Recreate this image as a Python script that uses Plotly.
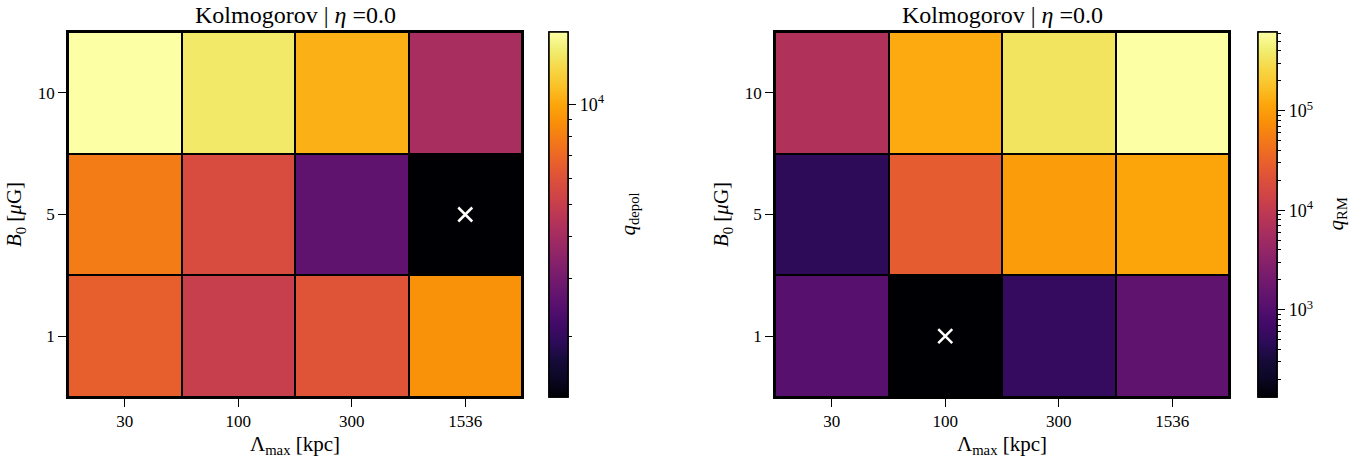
import numpy as np
import plotly.graph_objects as go

# ---------------- data ----------------
lambda_max = ["30", "100", "300", "1536"]          # x categories [kpc]
b0 = ["1", "5", "10"]                               # y categories [muG]

# rows: B0 = 1, 5, 10 ; columns: Lambda_max = 30, 100, 300, 1536
q_depol_b1 = [6640, 5030, 6150, 8990]
q_depol_b5 = [7920, 5710, 2610, 1320]
q_depol_b10 = [16500, 14200, 10500, 4110]

q_rm_b1 = [1100, 133, 559, 1300]
q_rm_b5 = [472, 27200, 96600, 114000]
q_rm_b10 = [7050, 124000, 343000, 620000]

title_text = "Kolmogorov | <i>η</i> =0.0"
xlabel = "Λ<sub>max</sub> [kpc]"
ylabel = "<i>B</i><sub>0</sub> [<i>μ</i>G]"
cb_left_label = "<i>q</i><sub>depol</sub>"
cb_right_label = "<i>q</i><sub>RM</sub>"

# inferno colormap (denser sampling)
inferno = [
    [0.00, "#000004"], [0.05, "#0b0724"], [0.10, "#160b39"], [0.15, "#2d0b59"],
    [0.20, "#420a68"], [0.25, "#57106e"], [0.30, "#6a176e"], [0.35, "#7f1e6c"],
    [0.40, "#932667"], [0.45, "#a82e5f"], [0.50, "#bc3754"], [0.55, "#cf4446"],
    [0.60, "#dd513a"], [0.65, "#ea632a"], [0.70, "#f37819"], [0.75, "#f98e09"],
    [0.80, "#fca50a"], [0.85, "#fac127"], [0.90, "#f6d746"], [0.95, "#f1ed71"],
    [1.00, "#fcffa4"],
]

# ---------------- layout constants ----------------
W, H = 1369, 465
FONT = "Liberation Serif"
plot_top, plot_bot = 32, 397
left_x = (68, 522)
right_x = (775, 1229)
cb_left_x = 549
cb_right_x = 1258
cb_title_x = {"left": 628, "right": 1336}

def px_x(v):
    return v / W

ydom = [(H - plot_bot) / H, (H - plot_top) / H]
cb_len = ydom[1] - ydom[0]

fig = go.Figure()

def major_minor(vmin, vmax):
    lo, hi = int(np.floor(np.log10(vmin))), int(np.ceil(np.log10(vmax)))
    majors, minors = [], []
    for e in range(lo, hi + 1):
        for m in range(1, 10):
            v = m * 10.0 ** e
            if vmin <= v <= vmax:
                (majors if m == 1 else minors).append(np.log10(v))
    return majors, minors

def add_panel(data_rows, xa, ya, cbx, cblabel, cbtx):
    z = np.log10(np.array(data_rows, dtype=float))
    zmin, zmax = z.min(), z.max()
    majors, minors = major_minor(10 ** zmin, 10 ** zmax)
    # minor-tick colorbar (drawn first, underneath)
    fig.add_trace(go.Scatter(
        x=[None], y=[None], mode="markers", xaxis=xa, yaxis=ya, showlegend=False,
        marker=dict(color=[zmin], cmin=zmin, cmax=zmax, colorscale=inferno,
                    showscale=True,
                    colorbar=dict(x=px_x(cbx), xanchor="left", xpad=0, ypad=0,
                                  y=ydom[0], yanchor="bottom", len=cb_len, lenmode="fraction",
                                  thickness=19, outlinewidth=1.5, outlinecolor="black",
                                  tickmode="array", tickvals=minors, ticks="outside",
                                  ticklen=4, tickwidth=1.2, tickcolor="black",
                                  showticklabels=False)),
        hoverinfo="skip"))
    fig.add_trace(go.Heatmap(
        z=z, x=lambda_max, y=b0, xaxis=xa, yaxis=ya,
        colorscale=inferno, zmin=zmin, zmax=zmax, xgap=2, ygap=2,
        colorbar=dict(x=px_x(cbx), xanchor="left", xpad=0, ypad=0,
                      y=ydom[0], yanchor="bottom", len=cb_len, lenmode="fraction",
                      thickness=19, outlinewidth=1.5, outlinecolor="black",
                      tickmode="array", tickvals=majors,
                      ticktext=["10<sup>%d</sup>" % round(v) for v in majors],
                      ticks="outside", ticklen=8, tickwidth=1.2, tickcolor="black",
                      tickfont=dict(family=FONT, size=18, color="black")),
    ))
    fig.add_annotation(text=cblabel, xref="paper", yref="paper",
                       x=px_x(cbtx), y=(ydom[0] + ydom[1]) / 2, textangle=-90,
                       xanchor="center", yanchor="middle", showarrow=False,
                       font=dict(family=FONT, size=21, color="black"))
    iy, ix = np.unravel_index(np.argmin(z), z.shape)
    fig.add_trace(go.Scatter(
        x=[lambda_max[ix]], y=[b0[iy]], mode="markers", xaxis=xa, yaxis=ya,
        showlegend=False, hoverinfo="skip",
        marker=dict(symbol="x-thin", size=14, line=dict(color="white", width=2.5))))

rows_depol = [q_depol_b1, q_depol_b5, q_depol_b10]
rows_rm = [q_rm_b1, q_rm_b5, q_rm_b10]
add_panel(rows_depol, "x", "y", cb_left_x, cb_left_label, cb_title_x["left"])
add_panel(rows_rm, "x2", "y2", cb_right_x, cb_right_label, cb_title_x["right"])

axis_common = dict(showline=True, mirror=True, linecolor="black", linewidth=1.5,
                   ticks="outside", ticklen=8, tickwidth=1.3, tickcolor="black",
                   tickfont=dict(family=FONT, size=17, color="black"),
                   showgrid=False, zeroline=False, type="category")

title_font = dict(family=FONT, size=21, color="black")

fig.update_layout(
    width=W, height=H,
    margin=dict(l=0, r=0, t=0, b=0),
    paper_bgcolor="white", plot_bgcolor="black",
    showlegend=False,
    xaxis=dict(domain=[px_x(left_x[0]), px_x(left_x[1])], range=[-0.5, 3.5],
               title=dict(text=xlabel, standoff=6, font=title_font),
               anchor="y", **axis_common),
    yaxis=dict(domain=ydom, range=[-0.5, 2.5], anchor="x",
               title=dict(text=ylabel, standoff=10, font=title_font),
               **axis_common),
    xaxis2=dict(domain=[px_x(right_x[0]), px_x(right_x[1])], range=[-0.5, 3.5],
                title=dict(text=xlabel, standoff=6, font=title_font),
                anchor="y2", **axis_common),
    yaxis2=dict(domain=ydom, range=[-0.5, 2.5], anchor="x2",
                title=dict(text=ylabel, standoff=10, font=title_font),
                **axis_common),
)

for xa in (left_x, right_x):
    fig.add_annotation(text=title_text, xref="paper", yref="paper",
                       x=px_x((xa[0] + xa[1]) / 2), y=1 - 15 / H,
                       xanchor="center", yanchor="middle", showarrow=False,
                       font=dict(family=FONT, size=24, color="black"))

fig.write_html("out.html")
